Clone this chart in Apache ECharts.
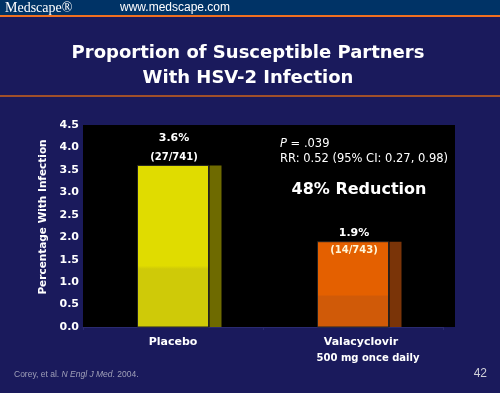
<!DOCTYPE html>
<html><head><meta charset="utf-8">
<script src="https://cdn.jsdelivr.net/npm/echarts@6/dist/echarts.min.js"></script>
<style>html,body{margin:0;padding:0;background:#1a1a5c;}#c{width:500px;height:393px;}</style>
</head><body><div id="c"></div>
<script>
const categories = ['Placebo', 'Valacyclovir'];
const subLabels = ['', '500 mg once daily'];
const values = [3.6, 1.9];
const valueLabels = ['3.6%', '1.9%'];
const countLabels = ['(27/741)', '(14/743)'];
const yTicks = [0, 0.5, 1, 1.5, 2, 2.5, 3, 3.5, 4, 4.5];
const frontColors = [['#e0dc00', '#cfca08'], ['#e46000', '#d05a08']];
const sideColors = ['#6e6a00', '#7a3408'];

const chart = echarts.init(document.getElementById('c'), null, {renderer: 'canvas'});
const F = '"DejaVu Sans", Verdana, sans-serif';

function renderBar(params, api) {
  const i = api.value(0);
  const v = api.value(1);
  const top = api.coord([i, v]);
  const base = api.coord([i, 0]);
  const fw = 71, sw = 12;
  const x0 = top[0] - fw / 2;
  const h = base[1] - top[1];
  const grad = new echarts.graphic.LinearGradient(0, 0, 0, 1, [
    {offset: 0, color: frontColors[i][0]},
    {offset: 0.62, color: frontColors[i][0]},
    {offset: 0.64, color: frontColors[i][1]},
    {offset: 1, color: frontColors[i][1]}
  ]);
  return {
    type: 'group',
    children: [
      {type: 'rect', shape: {x: x0, y: top[1], width: fw, height: h},
       style: {fill: grad, stroke: '#222', lineWidth: 1}},
      {type: 'rect', shape: {x: x0 + fw + 1, y: top[1], width: sw, height: h},
       style: {fill: sideColors[i]}},
      {type: 'text', style: {text: valueLabels[i], x: top[0] + 1, y: top[1] - (i === 0 ? 27 : 9),
        fill: '#ffffff', font: 'bold 11px ' + F, align: 'center', verticalAlign: 'middle'}},
      {type: 'text', style: {text: countLabels[i], x: top[0] + 1, y: top[1] + (i === 0 ? -8 : 9),
        fill: i === 0 ? '#ffffff' : '#fff6d8', font: 'bold 10px ' + F, align: 'center', verticalAlign: 'middle'}}
    ]
  };
}

chart.setOption({
  backgroundColor: '#1a1a5c',
  animation: false,
  grid: {left: 83, right: 57, top: 125, bottom: 66},
  graphic: [
    {type: 'rect', z: -10, shape: {x: 0, y: 0, width: 500, height: 15}, style: {fill: '#003366'}},
    {type: 'rect', z: -10, shape: {x: 0, y: 15, width: 500, height: 2}, style: {fill: '#f07020'}},
    {type: 'text', style: {text: 'Medscape®', x: 5, y: 8, fill: '#ffffff', font: '14px "Liberation Serif", serif', verticalAlign: 'middle'}},
    {type: 'text', style: {text: 'www.medscape.com', x: 120, y: 8, fill: '#ffffff', font: '12px "Liberation Sans", Arial, sans-serif', verticalAlign: 'middle'}},
    {type: 'text', style: {text: 'Proportion of Susceptible Partners', x: 248, y: 53, fill: '#ffffff', font: 'bold 18px ' + F, align: 'center', verticalAlign: 'middle'}},
    {type: 'text', style: {text: 'With HSV-2 Infection', x: 248, y: 78, fill: '#ffffff', font: 'bold 18px ' + F, align: 'center', verticalAlign: 'middle'}},
    {type: 'rect', z: -10, shape: {x: 0, y: 95, width: 500, height: 2}, style: {fill: '#a0502a'}},
    {type: 'rect', z: -5, shape: {x: 83, y: 125, width: 372, height: 202}, style: {fill: '#000000'}},
    {type: 'text', style: {text: '{i|P} = .039', x: 280, y: 144, fill: '#ffffff', font: '11.5px ' + F, verticalAlign: 'middle',
      rich: {i: {fontStyle: 'italic', fontSize: 11.5, fontFamily: F, fill: '#ffffff'}}}},
    {type: 'text', style: {text: 'RR: 0.52 (95% CI: 0.27, 0.98)', x: 280, y: 159, fill: '#ffffff', font: '11.5px ' + F, verticalAlign: 'middle'}},
    {type: 'text', style: {text: '48% Reduction', x: 359, y: 190, fill: '#ffffff', font: 'bold 16px ' + F, align: 'center', verticalAlign: 'middle'}},
    {type: 'text', style: {text: 'Corey, et al. {i|N Engl J Med}. 2004.', x: 14, y: 375, fill: '#a0a0b8', font: '8.5px "Liberation Sans", Arial, sans-serif', verticalAlign: 'middle',
      rich: {i: {fontStyle: 'italic', fontSize: 8.5, fill: '#a0a0b8', fontFamily: '"Liberation Sans", Arial, sans-serif'}}}},
    {type: 'text', style: {text: '42', x: 487, y: 374, fill: '#d0d0d8', font: '12px "Liberation Sans", Arial, sans-serif', align: 'right', verticalAlign: 'middle'}}
  ],
  xAxis: {
    type: 'category', data: categories,
    axisLine: {show: true, lineStyle: {color: '#2a2a70', width: 1}},
    axisTick: {show: true, lineStyle: {color: '#2a2a70'}, length: 3},
    axisLabel: {
      interval: 0, hideOverlap: false,
      margin: 7, color: '#ffffff', fontFamily: F, fontWeight: 'bold', fontSize: 11, lineHeight: 16,
      formatter: function (v, i) { return i === 0 ? '{a|' + v + '}' : '{b|' + v + '}\n{c|' + subLabels[i] + '}'; },
      rich: {
        a: {color: '#ffffff', fontFamily: F, fontWeight: 'bold', fontSize: 11},
        b: {color: '#ffffff', fontFamily: F, fontWeight: 'bold', fontSize: 11, padding: [0, 0, 0, 16]},
        c: {color: '#ffffff', fontFamily: F, fontSize: 10, padding: [0, 0, 0, 30]}
      }
    }
  },
  yAxis: {
    type: 'value', min: 0, max: 4.5, interval: 0.5,
    name: 'Percentage With Infection', nameLocation: 'middle', nameGap: 30, nameRotate: 90,
    nameTextStyle: {color: '#ffffff', fontFamily: F, fontSize: 10.5, fontWeight: 'bold', padding: [0, 0, 0, 18]},
    axisLine: {show: false}, axisTick: {show: false}, splitLine: {show: false},
    axisLabel: {color: '#ffffff', fontFamily: F, fontWeight: 'bold', fontSize: 11, margin: 4,
      formatter: function (v) { return yTicks.indexOf(v) >= 0 ? v.toFixed(1) : ''; }}
  },
  series: [{
    type: 'custom', renderItem: renderBar,
    data: values.map((v, i) => [i, v])
  }]
});
</script></body></html>
